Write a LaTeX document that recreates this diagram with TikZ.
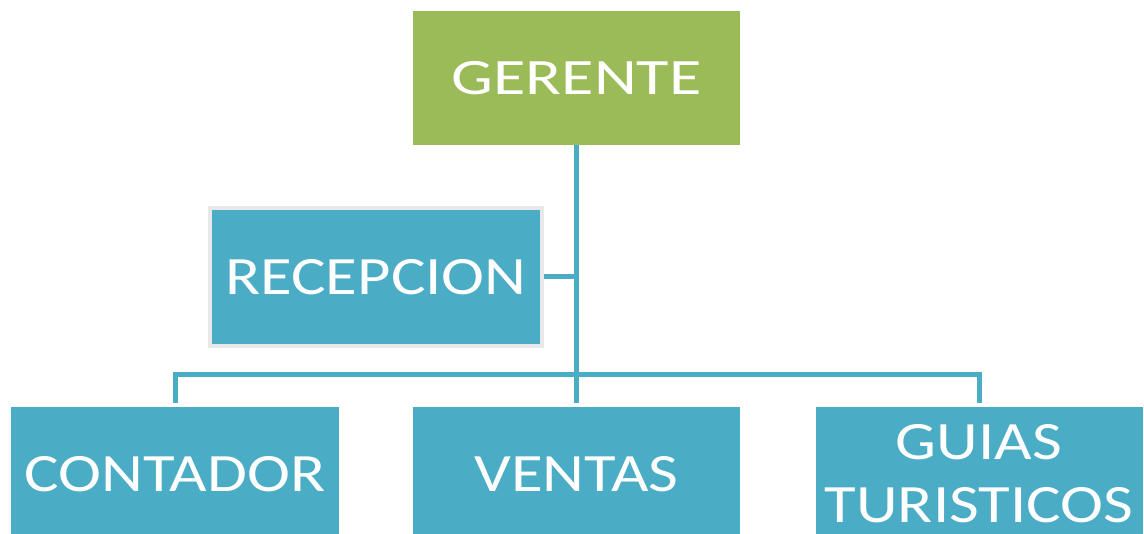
\documentclass[tikz,border=0pt]{standalone}
\usepackage{fontspec}
\setmainfont{Carlito}[FakeStretch=1.2]
\newfontfamily\bossfont{Carlito}[FakeStretch=1.3]
\usepackage{tikz}
\usetikzlibrary{calc,backgrounds}
\definecolor{orggreen}{HTML}{9BBB59}
\definecolor{orgblue}{HTML}{4BACC6}
\tikzstyle{org}=[
  x=1bp,y=1bp
]
\tikzstyle{orgbox}=[
  fill=orgblue,text=white,inner sep=0pt,minimum width=327bp,minimum height=134bp,
  align=center,font=\fontsize{54bp}{63bp}\selectfont
]
\tikzstyle{bossbox}=[
  orgbox,fill=orggreen,font=\bossfont\fontsize{51bp}{60bp}\selectfont
]
\tikzstyle{staffbox}=[
  orgbox,draw=gray!18,line width=4bp,minimum width=332bp,minimum height=138bp
]
\tikzstyle{orgedge}=[
  draw=orgblue,line width=5bp
]

\begin{document}
\begin{tikzpicture}[org]
    \path[use as bounding box,clip] (0,0) rectangle (1144,534);
    \node (ger) at (576.5,456) [bossbox] {GERENTE};
    \node (rec) at (376,257) [staffbox] {RECEPCION};
    \node (cont) at (175,60) [orgbox] {CONTADOR};
    \node (vent) at (576.5,60) [orgbox] {VENTAS};
    \node (guia) at (979,60) [orgbox] {GUIAS\\TURISTICOS};
    \coordinate (bus) at ($(vent.north) + (0,32)$);
    \begin{scope}[on background layer]
      \draw [orgedge] (ger.south) -- ($(vent.north) + (0,4)$);
      \draw [orgedge] (rec.east) -- (rec.east -| ger.south);
      \draw [orgedge] ($(cont.north) + (0,4)$) |- (bus) -| ($(guia.north) + (0,4)$);
    \end{scope}
\end{tikzpicture}
\end{document}
